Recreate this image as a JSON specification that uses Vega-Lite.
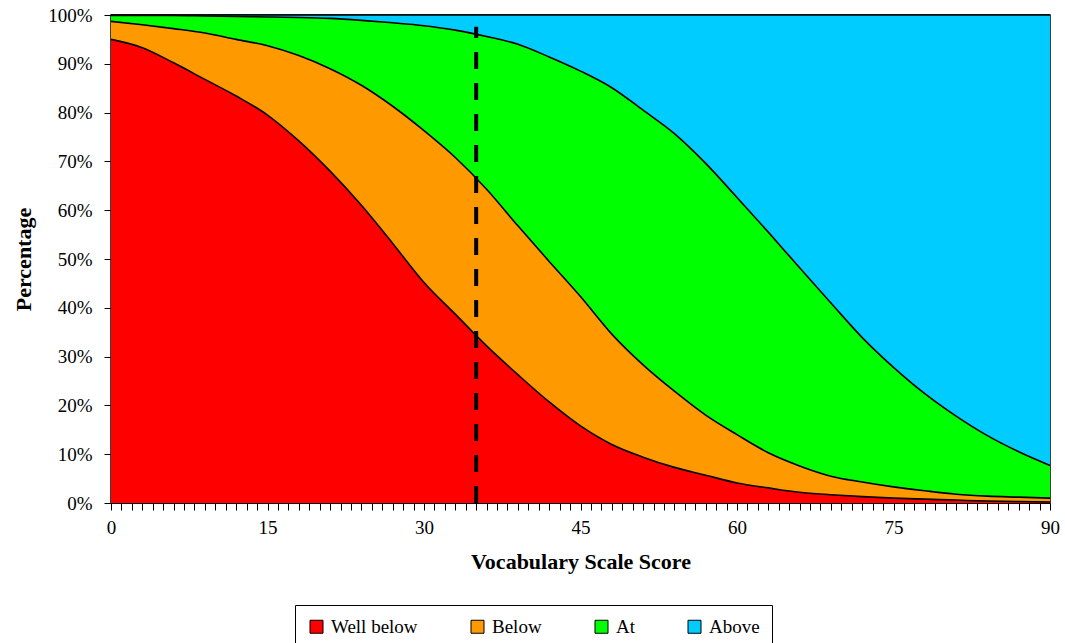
{
  "$schema": "https://vega.github.io/schema/vega-lite/v6.json",
  "width": 939,
  "height": 488,
  "autosize": "none",
  "padding": {"left": 111, "top": 15, "right": 15, "bottom": 140},
  "background": "white",
  "config": {"font": "Liberation Serif", "view": {"stroke": "black", "strokeWidth": 1.5}},
  "encoding": {
    "x": {
      "field": "score", "type": "quantitative",
      "scale": {"domain": [0, 90], "nice": false},
      "axis": {
        "values": [0,1,2,3,4,5,6,7,8,9,10,11,12,13,14,15,16,17,18,19,20,21,22,23,24,25,26,27,28,29,30,31,32,33,34,35,36,37,38,39,40,41,42,43,44,45,46,47,48,49,50,51,52,53,54,55,56,57,58,59,60,61,62,63,64,65,66,67,68,69,70,71,72,73,74,75,76,77,78,79,80,81,82,83,84,85,86,87,88,89,90],
        "labelExpr": "datum.value % 15 === 0 ? datum.label : ''",
        "labelOverlap": false,
        "labelFlush": false,
        "grid": false,
        "title": "Vocabulary Scale Score",
        "titleFontSize": 22,
        "titleFontWeight": "bold",
        "titleColor": "black",
        "titlePadding": 14,
        "labelFontSize": 19,
        "labelColor": "black",
        "labelPadding": 8,
        "tickSize": 7,
        "tickColor": "black",
        "domainColor": "black"
      }
    }
  },
  "layer": [
    {
      "data": {"values": [
        {"score": 0, "Well below": 95.0, "Below": 3.7, "At": 1.2, "Above": 0.1},
        {"score": 3, "Well below": 93.3, "Below": 4.7, "At": 1.9, "Above": 0.1},
        {"score": 6, "Well below": 90.2, "Below": 7.0, "At": 2.7, "Above": 0.1},
        {"score": 9, "Well below": 86.8, "Below": 9.5, "At": 3.5, "Above": 0.2},
        {"score": 12, "Well below": 83.4, "Below": 11.6, "At": 4.7, "Above": 0.3},
        {"score": 15, "Well below": 79.5, "Below": 14.2, "At": 5.9, "Above": 0.4},
        {"score": 18, "Well below": 74.2, "Below": 17.5, "At": 7.8, "Above": 0.5},
        {"score": 21, "Well below": 68.0, "Below": 21.0, "At": 10.3, "Above": 0.7},
        {"score": 24, "Well below": 61.0, "Below": 24.6, "At": 13.3, "Above": 1.1},
        {"score": 27, "Well below": 53.2, "Below": 28.1, "At": 17.1, "Above": 1.6},
        {"score": 30, "Well below": 45.2, "Below": 31.1, "At": 21.5, "Above": 2.2},
        {"score": 33, "Well below": 38.7, "Below": 32.1, "At": 26.1, "Above": 3.1},
        {"score": 36, "Well below": 32.2, "Below": 32.1, "At": 31.3, "Above": 4.4},
        {"score": 39, "Well below": 26.3, "Below": 30.5, "At": 37.2, "Above": 6.0},
        {"score": 42, "Well below": 20.7, "Below": 28.8, "At": 41.9, "Above": 8.6},
        {"score": 45, "Well below": 15.8, "Below": 26.5, "At": 46.2, "Above": 11.5},
        {"score": 48, "Well below": 12.0, "Below": 22.6, "At": 50.5, "Above": 14.9},
        {"score": 51, "Well below": 9.4, "Below": 18.9, "At": 52.2, "Above": 19.5},
        {"score": 54, "Well below": 7.3, "Below": 15.6, "At": 52.8, "Above": 24.3},
        {"score": 57, "Well below": 5.7, "Below": 12.3, "At": 51.6, "Above": 30.4},
        {"score": 60, "Well below": 4.1, "Below": 9.9, "At": 48.6, "Above": 37.4},
        {"score": 63, "Well below": 3.1, "Below": 7.2, "At": 45.2, "Above": 44.5},
        {"score": 66, "Well below": 2.2, "Below": 5.4, "At": 40.6, "Above": 51.8},
        {"score": 69, "Well below": 1.7, "Below": 3.8, "At": 35.5, "Above": 59.0},
        {"score": 72, "Well below": 1.3, "Below": 3.0, "At": 29.6, "Above": 66.1},
        {"score": 75, "Well below": 1.0, "Below": 2.3, "At": 24.5, "Above": 72.2},
        {"score": 78, "Well below": 0.8, "Below": 1.7, "At": 19.9, "Above": 77.6},
        {"score": 81, "Well below": 0.6, "Below": 1.2, "At": 16.0, "Above": 82.2},
        {"score": 84, "Well below": 0.4, "Below": 1.0, "At": 12.4, "Above": 86.2},
        {"score": 87, "Well below": 0.3, "Below": 0.9, "At": 9.3, "Above": 89.5},
        {"score": 90, "Well below": 0.2, "Below": 0.8, "At": 6.7, "Above": 92.3}
      ]},
      "transform": [{"fold": ["Well below", "Below", "At", "Above"], "as": ["level", "pct"]}],
      "layer": [
        {
          "mark": {"type": "area", "opacity": 1, "interpolate": "monotone"},
          "encoding": {
            "y": {
              "field": "pct", "type": "quantitative", "stack": "zero",
              "scale": {"domain": [0, 100], "nice": false},
              "axis": {
                "values": [0,10,20,30,40,50,60,70,80,90,100],
                "labelExpr": "datum.value + '%'",
                "grid": false,
                "title": "Percentage",
                "titleFontSize": 22,
                "titleFontWeight": "bold",
                "titleColor": "black",
                "titlePadding": 12,
                "labelFontSize": 19,
                "labelColor": "black",
                "labelPadding": 12,
                "tickSize": 7,
                "tickColor": "black",
                "domainColor": "black"
              }
            },
            "color": {
              "field": "level", "type": "nominal",
              "scale": {"domain": ["Well below", "Below", "At", "Above"], "range": ["#ff0000", "#ff9900", "#00ff00", "#00ccff"]},
              "legend": {
                "title": null,
                "orient": "none",
                "direction": "horizontal",
                "legendX": 184,
                "legendY": 590,
                "symbolType": "square",
                "symbolSize": 169,
                "symbolStrokeColor": "black",
                "symbolStrokeWidth": 1,
                "symbolOpacity": 1,
                "labelFontSize": 19,
                "labelColor": "black",
                "labelOffset": 5,
                "columnPadding": 50,
                "strokeColor": "black",
                "fillColor": "white",
                "padding": 12
              }
            }
          }
        },
        {
          "mark": {"type": "line", "color": "black", "strokeWidth": 1.6, "interpolate": "monotone"},
          "encoding": {
            "y": {
              "field": "pct", "type": "quantitative", "stack": "zero",
              "axis": {
                "values": [0,10,20,30,40,50,60,70,80,90,100],
                "labelExpr": "datum.value + '%'",
                "grid": false,
                "title": "Percentage",
                "titleFontSize": 22,
                "titleFontWeight": "bold",
                "titleColor": "black",
                "titlePadding": 12,
                "labelFontSize": 19,
                "labelColor": "black",
                "labelPadding": 12,
                "tickSize": 7,
                "tickColor": "black",
                "domainColor": "black"
              }
            },
            "detail": {"field": "level", "type": "nominal"}
          }
        }
      ]
    },
    {
      "data": {"values": [{"score": 35, "from": 0, "to": 97.6}]},
      "mark": {"type": "rule", "color": "black", "strokeWidth": 4, "strokeDash": [17, 14]},
      "encoding": {
        "y": {
          "field": "from", "type": "quantitative",
          "axis": {
            "values": [0,10,20,30,40,50,60,70,80,90,100],
            "labelExpr": "datum.value + '%'",
            "grid": false,
            "title": "Percentage",
            "titleFontSize": 22,
            "titleFontWeight": "bold",
            "titleColor": "black",
            "titlePadding": 12,
            "labelFontSize": 19,
            "labelColor": "black",
            "labelPadding": 12,
            "tickSize": 7,
            "tickColor": "black",
            "domainColor": "black"
          }
        },
        "y2": {"field": "to"}
      }
    }
  ]
}
